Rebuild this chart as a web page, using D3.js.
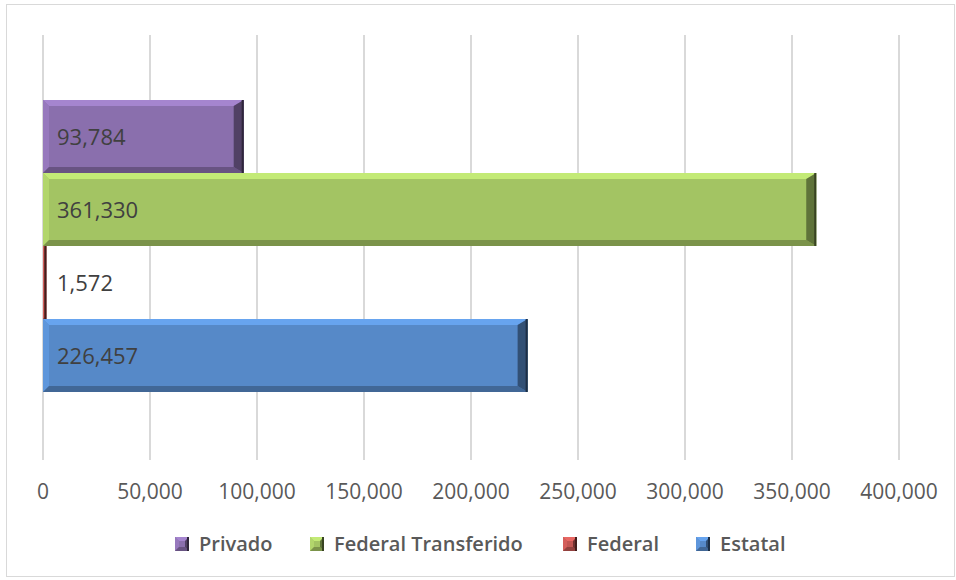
<!DOCTYPE html>
<html>
<head>
<meta charset="utf-8">
<script src="https://cdn.jsdelivr.net/npm/d3@7"></script>
<style>
  body { margin: 0; background: #fff; }
  svg { display: block; }
</style>
</head>
<body>
<div id="chart"></div>
<script>
// data
let series = ["Privado", "Federal Transferido", "Federal", "Estatal"];
let values = [93784, 361330, 1572, 226457];
let ticks = [0, 50000, 100000, 150000, 200000, 250000, 300000, 350000, 400000];

// palette
let colors = ["#8A6FAD", "#A3C463", "#C25653", "#5689C8"];

let W = 956, H = 580;
let plot = {left: 43, right: 899, top: 35, bottom: 460};

let svg = d3.select("#chart").append("svg")
            .attr("width", W)
            .attr("height", H);

svg.append("rect")
   .attr("x", 6.5).attr("y", 4.5)
   .attr("width", 948).attr("height", 572)
   .attr("fill", "#fff")
   .attr("stroke", "#d9d9d9");

let x = d3.scaleLinear()
          .domain([0, 400000])
          .range([plot.left, plot.right]);

// one category, four series -> bands inside the plot
let y = d3.scaleBand()
          .domain(series)
          .range([100, 392]);

// gridlines
svg.append("g")
   .selectAll("line")
   .data(ticks)
   .enter().append("line")
   .attr("x1", d => x(d)).attr("x2", d => x(d))
   .attr("y1", plot.top).attr("y2", plot.bottom)
   .attr("stroke", "#d9d9d9")
   .attr("stroke-width", 2);

// tick labels
svg.append("g")
   .selectAll("text")
   .data(ticks)
   .enter().append("text")
   .attr("x", d => x(d))
   .attr("y", 499)
   .attr("text-anchor", "middle")
   .style("font-family", "'Open Sans', sans-serif")
   .style("font-size", "21px")
   .attr("fill", "#595959")
   .text(d => d3.format(",")(d));

// bevel helper
function bevel(g, x0, x1, y0, y1, color, b, br) {
  let c = d3.color(color);
  b = Math.min(b, (x1 - x0) / 2);
  br = Math.min(br || b, (x1 - x0) / 2);
  g.append("rect")
   .attr("x", x0).attr("y", y0)
   .attr("width", x1 - x0).attr("height", y1 - y0)
   .attr("fill", color);
  let faces = [
    {pts: [[x0, y0], [x1, y0], [x1 - br, y0 + b], [x0 + b, y0 + b]], fill: c.brighter(0.5)},
    {pts: [[x0, y0], [x0 + b, y0 + b], [x0 + b, y1 - b], [x0, y1]], fill: c.brighter(0.25)},
    {pts: [[x0, y1], [x0 + b, y1 - b], [x1 - br, y1 - b], [x1, y1]], fill: c.darker(0.8)},
    {pts: [[x1, y0], [x1, y1], [x1 - br, y1 - b], [x1 - br, y0 + b]], fill: c.darker(1.5)}
  ];
  g.selectAll(null)
   .data(faces)
   .enter().append("polygon")
   .attr("points", d => d.pts.map(p => p.join(",")).join(" "))
   .attr("fill", d => d.fill);
  // dark outer edge on the right
  g.append("line")
   .attr("x1", x1 - 1).attr("x2", x1 - 1)
   .attr("y1", y0).attr("y2", y1)
   .attr("stroke", c.darker(3))
   .attr("stroke-width", 2);
}

let bars = svg.append("g");
series.forEach((s, i) => {
  let g = bars.append("g");
  bevel(g, x(0), x(values[i]), y(s), y(s) + y.bandwidth(), colors[i], 6, 10);
});

// value labels
svg.append("g")
   .selectAll("text")
   .data(series)
   .enter().append("text")
   .attr("x", x(0) + 14)
   .attr("y", d => y(d) + y.bandwidth() / 2 + 8)
   .style("font-family", "'Open Sans', sans-serif")
   .style("font-size", "22px")
   .attr("fill", "#404040")
   .text((d, i) => d3.format(",")(values[i]));

// legend
let legendX = [175, 310, 563, 696];
let legend = svg.selectAll(".legend")
                .data(series)
                .enter().append("g")
                .attr("class", "legend")
                .attr("transform", (d, i) => "translate(" + legendX[i] + ",537)");

legend.each(function(d, i) {
  bevel(d3.select(this), 0, 14, 0, 14, colors[i], 4);
});

legend.append("text")
      .attr("x", 24)
      .attr("y", 14)
      .style("font-family", "'Open Sans', sans-serif")
      .style("font-size", "20px")
      .style("font-weight", "600")
      .attr("fill", "#595959")
      .text(d => d);
</script>
</body>
</html>
